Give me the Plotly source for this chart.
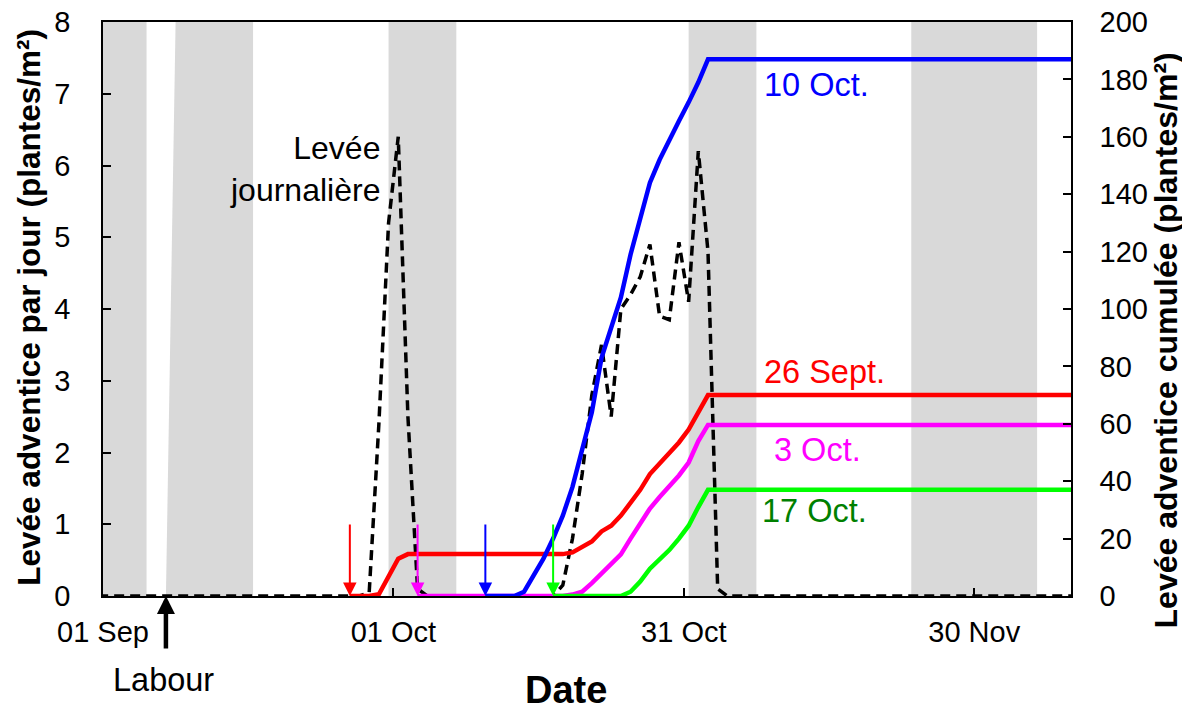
import plotly.graph_objects as go
import pandas as pd

# ---- Shaded periods (grey bands) ----
band_start_bottom = ["2010-09-01 00:00", "2010-09-07 12:00", "2010-09-30 12:00", "2010-10-31 12:00", "2010-11-23 12:00"]
band_start_top = ["2010-09-01 00:00", "2010-09-08 12:00", "2010-09-30 12:00", "2010-10-31 12:00", "2010-11-23 12:00"]
band_end = ["2010-09-05 12:00", "2010-09-16 12:00", "2010-10-07 12:00", "2010-11-07 12:00", "2010-12-06 12:00"]

# ---- Daily emergence (left axis, plantes/m2 per day) ----
daily_dates = ["2010-08-31", "2010-09-27", "2010-09-28", "2010-09-29", "2010-09-30", "2010-10-01",
               "2010-10-02", "2010-10-03", "2010-10-04", "2010-10-16", "2010-10-17", "2010-10-18",
               "2010-10-19", "2010-10-20", "2010-10-21", "2010-10-22", "2010-10-23", "2010-10-24",
               "2010-10-25", "2010-10-26", "2010-10-27", "2010-10-28", "2010-10-29", "2010-10-30",
               "2010-10-31", "2010-11-01", "2010-11-02", "2010-11-03", "2010-11-04", "2010-12-10"]
daily_values = [0, 0, 0.05, 2.4, 5.2, 6.4,
                2.5, 0.1, 0, 0, 0, 0.15,
                0.8, 1.7, 2.8, 3.5, 2.5, 4.0,
                4.2, 4.45, 4.9, 3.9, 3.85, 4.93,
                4.1, 6.2, 4.8, 0.1, 0, 0]

# ---- Cumulative emergence (right axis) per sowing date ----
red_dates = ["2010-09-26", "2010-09-28", "2010-09-29", "2010-09-30", "2010-10-01", "2010-10-02",
             "2010-10-18", "2010-10-19", "2010-10-20", "2010-10-21", "2010-10-22", "2010-10-23",
             "2010-10-24", "2010-10-25", "2010-10-26", "2010-10-27", "2010-10-28", "2010-10-29",
             "2010-10-30", "2010-10-31", "2010-11-01", "2010-11-02", "2010-12-10"]
red_values = [0, 0, 0.6, 6.8, 13.0, 14.6,
              14.6, 15.2, 17, 19, 22.5, 24.5,
              28, 32.5, 37, 42.5, 46, 49.5,
              53.5, 58, 64, 70, 70]

magenta_dates = ["2010-10-03", "2010-10-18", "2010-10-19", "2010-10-20", "2010-10-21", "2010-10-22",
                 "2010-10-23", "2010-10-24", "2010-10-25", "2010-10-26", "2010-10-27", "2010-10-28",
                 "2010-10-29", "2010-10-30", "2010-10-31", "2010-11-01", "2010-11-02", "2010-12-10"]
magenta_values = [0, 0, 0.5, 1.5, 4.5, 8,
                  11, 14.5, 20, 25.5, 30.5, 34.5,
                  38, 42, 46.5, 54, 59.6, 59.6]

blue_dates = ["2010-10-10", "2010-10-13", "2010-10-14", "2010-10-15", "2010-10-16", "2010-10-17",
              "2010-10-18", "2010-10-19", "2010-10-20", "2010-10-21", "2010-10-22", "2010-10-23",
              "2010-10-24", "2010-10-25", "2010-10-26", "2010-10-27", "2010-10-28", "2010-10-29",
              "2010-10-30", "2010-10-31", "2010-11-01", "2010-11-02", "2010-12-10"]
blue_values = [0, 0, 1.5, 7, 13, 20,
               28, 38, 51, 64, 83, 93,
               104, 119, 132, 144, 152, 159,
               165.5, 172, 179, 187, 187]

green_dates = ["2010-10-17", "2010-10-24", "2010-10-25", "2010-10-26", "2010-10-27", "2010-10-28",
               "2010-10-29", "2010-10-30", "2010-10-31", "2010-11-01", "2010-11-02", "2010-12-10"]
green_values = [0, 0, 1.5, 5, 9.5, 12.5,
                16, 20, 24.5, 31, 37, 37]

# ---- Sowing dates (arrows) and tillage ----
sowing_dates = ["2010-09-26", "2010-10-03", "2010-10-10", "2010-10-17"]
sowing_colors = ["#FF0000", "#FF00FF", "#0000FF", "#00FF00"]
series_labels = ["26 Sept.", "3 Oct.", "10 Oct.", "17 Oct."]
label_colors = ["#FF0000", "#FF00FF", "#0000FF", "#008000"]
labour_date = "2010-09-07"

x_range = ["2010-09-01", "2010-12-10"]
tick_start = "2010-09-01"
DAY_MS = 86400000

FONT = "Liberation Sans, Arial, sans-serif"


def mid(dates):
    # points are drawn in the middle of each day (date axis "between tick marks")
    return pd.to_datetime(pd.Series(dates)) + pd.Timedelta(hours=12)


fig = go.Figure()

# grey bands
for sb, st, e in zip(band_start_bottom, band_start_top, band_end):
    fig.add_trace(go.Scatter(
        x=[sb, st, e, e, sb], y=[0, 8, 8, 0, 0], mode="lines", fill="toself",
        fillcolor="#d9d9d9", line=dict(width=0), hoverinfo="skip", showlegend=False,
        yaxis="y"))

# daily emergence, dashed black
fig.add_trace(go.Scatter(
    x=mid(daily_dates), y=daily_values, mode="lines",
    line=dict(color="black", width=3.5, dash="10px,6px"), showlegend=False, yaxis="y"))

# cumulative curves
for dts, vals, col in [(red_dates, red_values, "#FF0000"),
                       (magenta_dates, magenta_values, "#FF00FF"),
                       (blue_dates, blue_values, "#0000FF"),
                       (green_dates, green_values, "#00FF00")]:
    fig.add_trace(go.Scatter(x=mid(dts), y=vals, mode="lines",
                             line=dict(color=col, width=4.5), showlegend=False, yaxis="y2"))

annotations = []
# sowing arrows
for d, c in zip(mid(sowing_dates), sowing_colors):
    annotations.append(dict(x=d, y=0, xref="x", yref="y", text="", showarrow=True,
                            ax=0, ay=-73, axref="pixel", ayref="pixel",
                            arrowhead=2, arrowsize=1.35, arrowwidth=2, arrowcolor=c))
# tillage arrow
annotations.append(dict(x=mid([labour_date])[0], y=0, xref="x", yref="y", text="", showarrow=True,
                        ax=0, ay=54, arrowhead=2, arrowsize=0.8, arrowwidth=4.5, arrowcolor="black"))
annotations.append(dict(x=0.062, y=-0.146, xref="paper", yref="paper", text="Labour",
                        showarrow=False, xanchor="center", yanchor="middle",
                        font=dict(family=FONT, size=32.5, color="black")))

# curve labels
label_pos = {"10 Oct.": (0.7376, 0.890), "26 Sept.": (0.745, 0.390),
             "3 Oct.": (0.738, 0.254), "17 Oct.": (0.735, 0.148)}
for lab, col in zip(series_labels, label_colors):
    px_, py_ = label_pos[lab]
    annotations.append(dict(x=px_, y=py_, xref="paper", yref="paper", text=lab, showarrow=False,
                            xanchor="center", yanchor="middle",
                            font=dict(family=FONT, size=32.5, color=col)))

annotations.append(dict(x=0.288, y=0.744, xref="paper", yref="paper",
                        text="Levée<br>journalière", showarrow=False, align="right",
                        xanchor="right", yanchor="middle",
                        font=dict(family=FONT, size=32, color="black")))

# axis titles
annotations.append(dict(x=0.478, y=-0.164, xref="paper", yref="paper", text="<b>Date</b>",
                        showarrow=False, xanchor="center", yanchor="middle",
                        font=dict(family=FONT, size=38, color="black")))
annotations.append(dict(x=-0.076, y=0.503, xref="paper", yref="paper",
                        text="<b>Levée adventice par jour (plantes/m²)</b>", textangle=-90,
                        showarrow=False, xanchor="center", yanchor="middle",
                        font=dict(family=FONT, size=31.5, color="black")))
annotations.append(dict(x=1.098, y=0.445, xref="paper", yref="paper",
                        text="<b>Levée adventice cumulée (plantes/m²)</b>", textangle=-90,
                        showarrow=False, xanchor="center", yanchor="middle",
                        font=dict(family=FONT, size=32, color="black")))

# page has an 8px body margin: plot area placed at 103..1071 x 22..596 in the window
fig.update_layout(
    width=1190, height=709,
    margin=dict(l=95, r=127, t=14, b=121, autoexpand=False),
    paper_bgcolor="white", plot_bgcolor="white",
    showlegend=False,
    font=dict(family=FONT, size=29, color="black"),
    annotations=annotations,
    xaxis=dict(type="date", range=x_range, tick0=tick_start, dtick=30 * DAY_MS,
               tickformat="%d %b", ticks="inside", ticklen=8, tickwidth=1.5, tickcolor="black",
               showline=True, linecolor="black", linewidth=1.5, mirror=True, automargin=False,
               showgrid=False, zeroline=False, ticklabelstandoff=9, ticklabeloverflow="allow",
               tickfont=dict(family=FONT, size=29, color="black")),
    yaxis=dict(range=[0, 8], dtick=1, side="left", ticks="inside", ticklen=8, tickwidth=1.5,
               tickcolor="black", showline=True, linecolor="black", linewidth=1.5,
               automargin=False,
               showgrid=False, zeroline=False, ticklabelstandoff=25, ticklabeloverflow="allow",
               tickfont=dict(family=FONT, size=29, color="black")),
    yaxis2=dict(range=[0, 200], dtick=20, side="right", overlaying="y", ticks="inside",
                ticklen=8, tickwidth=1.5, tickcolor="black", showline=True, linecolor="black",
                linewidth=1.5, showgrid=False, zeroline=False, ticklabelstandoff=21,
                ticklabeloverflow="allow", automargin=False,
                tickfont=dict(family=FONT, size=29, color="black")),
)

fig.write_html("out.html")
